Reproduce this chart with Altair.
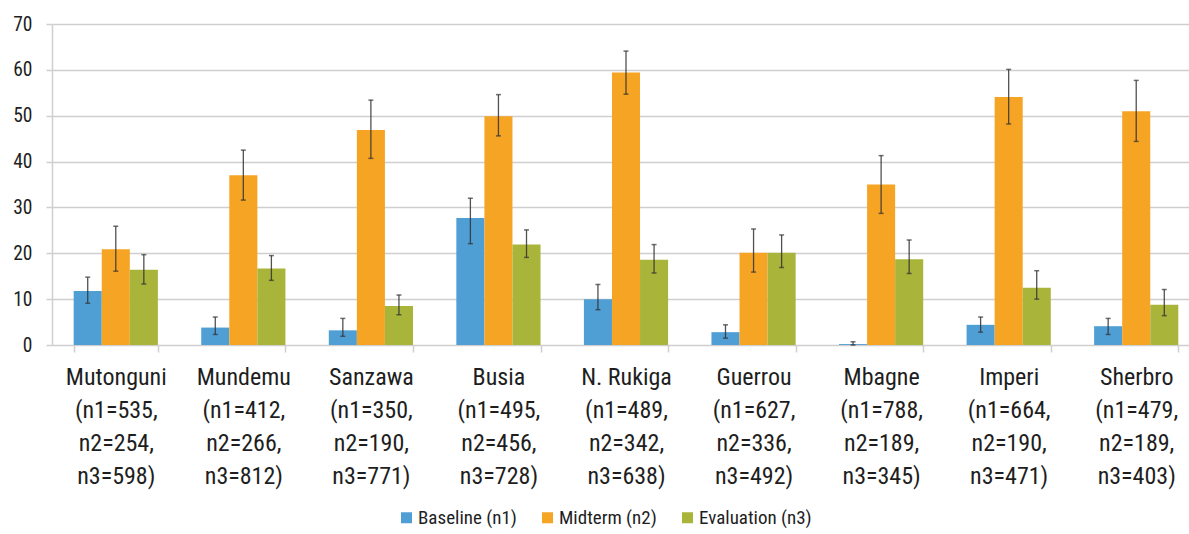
import altair as alt
import pandas as pd

# Sites and their sample sizes
sites = ["Mutonguni", "Mundemu", "Sanzawa", "Busia", "N. Rukiga",
         "Guerrou", "Mbagne", "Imperi", "Sherbro"]
n1 = [535, 412, 350, 495, 489, 627, 788, 664, 479]
n2 = [254, 266, 190, 456, 342, 336, 189, 190, 189]
n3 = [598, 812, 771, 728, 638, 492, 345, 471, 403]

series = ["Baseline (n1)", "Midterm (n2)", "Evaluation (n3)"]
colors = ["#4f9fd5", "#f6a424", "#a9b43a"]

# Point estimates
baseline = [11.8, 3.8, 3.2, 27.7, 10.0, 2.8, 0.2, 4.4, 4.1]
midterm = [20.9, 37.0, 46.9, 49.9, 59.4, 20.1, 35.0, 54.1, 51.0]
evaluation = [16.4, 16.7, 8.5, 21.9, 18.6, 20.1, 18.7, 12.5, 8.8]

# Confidence interval bounds
baseline_lo = [9.1, 2.3, 1.9, 22.1, 7.7, 1.5, 0.0, 2.8, 2.3]
baseline_hi = [14.8, 6.1, 5.8, 32.0, 13.2, 4.4, 0.7, 6.1, 5.8]
midterm_lo = [16.1, 31.6, 40.7, 45.6, 54.7, 15.9, 28.7, 48.2, 44.4]
midterm_hi = [25.9, 42.5, 53.4, 54.6, 64.1, 25.3, 41.3, 60.1, 57.7]
evaluation_lo = [13.3, 14.1, 6.6, 19.1, 15.7, 16.9, 15.6, 10.0, 6.4]
evaluation_hi = [19.7, 19.5, 10.9, 25.1, 21.9, 24.0, 22.9, 16.2, 12.1]

labels = [f"{s}|(n1={a},|n2={b},|n3={c})" for s, a, b, c in zip(sites, n1, n2, n3)]

rows = []
for name, vals, lo, hi in [
    (series[0], baseline, baseline_lo, baseline_hi),
    (series[1], midterm, midterm_lo, midterm_hi),
    (series[2], evaluation, evaluation_lo, evaluation_hi),
]:
    for lab, v, l, h in zip(labels, vals, lo, hi):
        rows.append({"site": lab, "series": name, "value": v, "lo": l, "hi": h})
df = pd.DataFrame(rows)

FONT = "Roboto Condensed, Roboto, sans-serif"
INK = "#1e1e1e"
LINE = "#cfcfcf"

x = alt.X(
    "site:N", sort=labels, title=None,
    scale=alt.Scale(paddingInner=0.34, paddingOuter=0.17, range=[0, 1148]),
    axis=alt.Axis(
        labelExpr="split(datum.label, '|')", labelAngle=0,
        labelFont=FONT, labelFontSize=24, labelColor=INK,
        labelLineHeight=33, labelPadding=13, labelBaseline="top",
        tickBand="extent", tickSize=7, tickColor=LINE, tickWidth=1.5,
        domain=False, grid=False,
    ),
)
xo = alt.XOffset("series:N", sort=series)

y = alt.Y(
    "value:Q", title=None,
    scale=alt.Scale(domain=[0, 70], nice=False),
    axis=alt.Axis(
        values=list(range(0, 71, 10)), labelFont=FONT, labelFontSize=19.5,
        labelColor=INK, labelPadding=14, tickSize=6, tickColor=LINE,
        tickWidth=1.5, gridColor=LINE, gridWidth=1.6,
        domainColor=LINE, domainWidth=1.5,
    ),
)

color = alt.Color(
    "series:N", sort=series,
    scale=alt.Scale(domain=series, range=colors),
    legend=alt.Legend(
        title=None, orient="none", direction="horizontal",
        legendX=345, legendY=484, symbolType="square", symbolSize=121,
        symbolStrokeWidth=0, labelFont=FONT, labelFontSize=19,
        labelColor=INK, columnPadding=21, labelOffset=2,
    ),
)

bars = alt.Chart(df).mark_bar().encode(x=x, xOffset=xo, y=y, color=color)

err = alt.Chart(df).mark_rule(color="#333333", strokeWidth=1.3, opacity=0.85).encode(
    x=x, xOffset=xo, y="lo:Q", y2="hi:Q"
)
cap_lo = alt.Chart(df).mark_tick(color="#333333", size=5, thickness=1.5).encode(
    x=x, xOffset=xo, y="lo:Q"
)
cap_hi = alt.Chart(df).mark_tick(color="#333333", size=5, thickness=1.5).encode(
    x=x, xOffset=xo, y="hi:Q"
)

chart = (
    alt.layer(bars, err, cap_lo, cap_hi)
    .properties(
        width=1137, height=321,
        autosize=alt.AutoSizeParams(type="none"),
        padding={"left": 52, "top": 24, "right": 0, "bottom": 189},
        background="white",
    )
    .configure_view(stroke=None)
)

chart.save("out.html", embed_options={"renderer": "svg", "actions": False})
